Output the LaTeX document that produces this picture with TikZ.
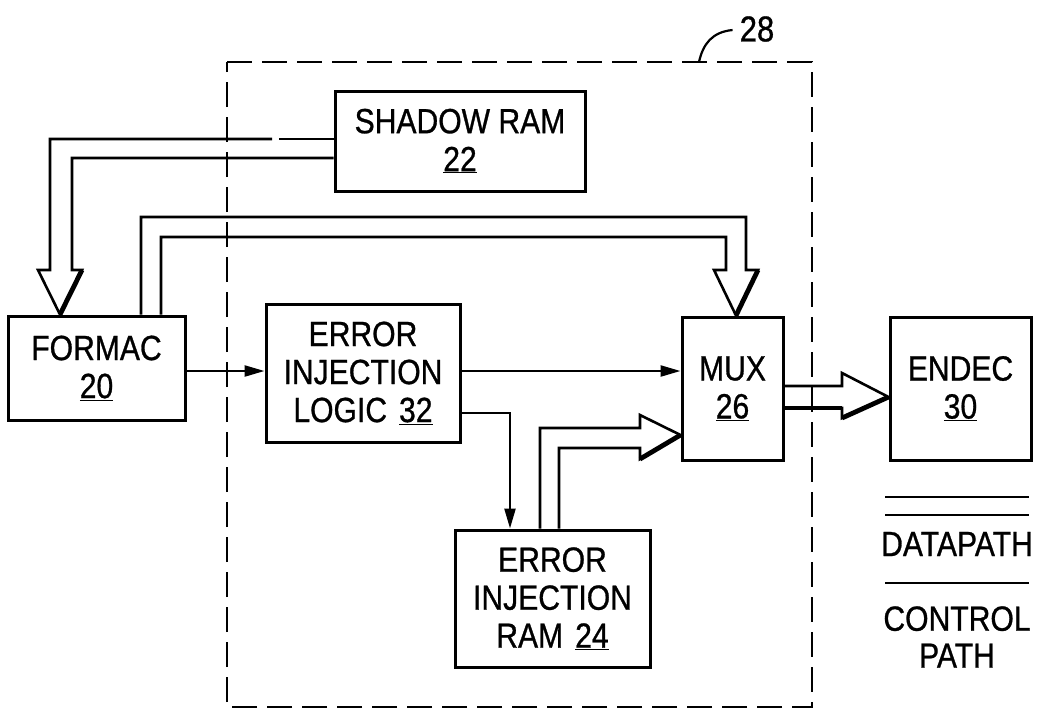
\documentclass[tikz,border=0pt]{standalone}
\usepackage{fontspec}
\setmainfont{Liberation Sans}[FakeStretch=0.86,FakeBold=0.8]
\usetikzlibrary{arrows.meta,calc}
\begin{document}
\begin{tikzpicture}[x=1pt,y=-1pt,
  box/.style={draw,line width=3pt,inner sep=0pt,align=center,font=\fontsize{35}{38}\selectfont},
  lbl/.style={inner sep=0pt,align=center,font=\fontsize{35}{37}\selectfont},
  ctrl/.style={line width=2.4pt,-{Triangle[length=20pt,width=11pt]}},
  dp/.style={line width=2.6pt,line join=miter,line cap=butt},
  dpthick/.style={line width=4.8pt,line cap=butt},
  enc/.style={line width=2.2pt,dash pattern=on 25pt off 10pt}
]
\useasboundingbox (0,0) rectangle (1040,710);

% enclosure
\draw[enc] (227,62) -- (812,62) -- (812,707) -- (227,707) -- cycle;
\node[lbl,font=\fontsize{36}{36}\selectfont] (lab) at (757,29) {28};
\coordinate (lead) at (699,62);
\draw[line width=2.2pt] (lead) .. controls (703,44) and (712,32) .. ($(lab.west)+(-7,1)$);

% blocks
\node[box,minimum width=177pt,minimum height=104pt] (formac) at (96.5,368) {FORMAC\\\underline{20}};
\node[box,minimum width=250pt,minimum height=100pt] (shadow) at (460,141) {SHADOW RAM\\\underline{22}};
\node[box,minimum width=194pt,minimum height=138pt] (logic) at (363,373) {ERROR\\INJECTION\\LOGIC\hspace{12pt}\underline{32}};
\node[box,minimum width=101pt,minimum height=143pt] (mux) at (732.5,388.5) {MUX\\\underline{26}};
\node[box,minimum width=141pt,minimum height=143pt] (endec) at (960.5,388.5) {ENDEC\\\underline{30}};
\node[box,minimum width=195pt,minimum height=137pt] (ram) at (552.5,598.5) {ERROR\\INJECTION\\RAM\hspace{12pt}\underline{24}};

% datapath: shadow ram -> formac
\draw[dp] (shadow.west |- 0,139) -- (279,139);
\draw[dp] (272,139) -- (50,139) -- (50,270) -- (38,270) -- (60,0 |- formac.north)
  -- (82,270) -- (72,270) -- (72,158) -- (shadow.west |- 0,158);
\draw[dpthick] (82,270) -- (60,0 |- formac.north);

% datapath: formac -> mux
\draw[dp] (141,0 |- formac.north) -- (141,217) -- (746,217) -- (746,270) -- (758,270)
  -- (736,0 |- mux.north) -- (714,270) -- (726,270) -- (726,237) -- (161,237) -- (161,0 |- formac.north);
\draw[dpthick] (758,270) -- (736,0 |- mux.north);

% datapath: ram -> mux
\draw[dp] (540,0 |- ram.north) -- (540,428) -- (640,428) -- (640,415) -- (mux.west |- 0,435)
  -- (640,459) -- (640,448) -- (559,448) -- (559,0 |- ram.north);
\draw[dpthick] (640,459) -- (mux.west |- 0,435);

% datapath: mux -> endec
\draw[dp] (mux.east |- 0,386) -- (842,386) -- (842,373) -- (endec.west |- 0,397)
  -- (842,418) -- (842,408) -- (mux.east |- 0,408);
\draw[dpthick] (842,418) -- (endec.west |- 0,397);
\draw[line width=3.8pt] (mux.east |- 0,408) -- (842,408);

% control paths
\draw[ctrl] (formac.east |- 0,371) -- (logic.west |- 0,371);
\draw[ctrl] (logic.east |- 0,371) -- (mux.west |- 0,371);
\draw[ctrl] (logic.east |- 0,413) -- (510,413) -- (510,0 |- ram.north);

% legend
\draw[line width=2.6pt] (885,497) -- (1029,497);
\draw[line width=2.6pt] (885,515) -- (1029,515);
\node[lbl] (dpl) at (957,544) {DATAPATH};
\draw[line width=2.4pt] (885,583) -- (1029,583);
\node[lbl] (cpl) at (957,637) {CONTROL\\PATH};
\end{tikzpicture}
\end{document}
